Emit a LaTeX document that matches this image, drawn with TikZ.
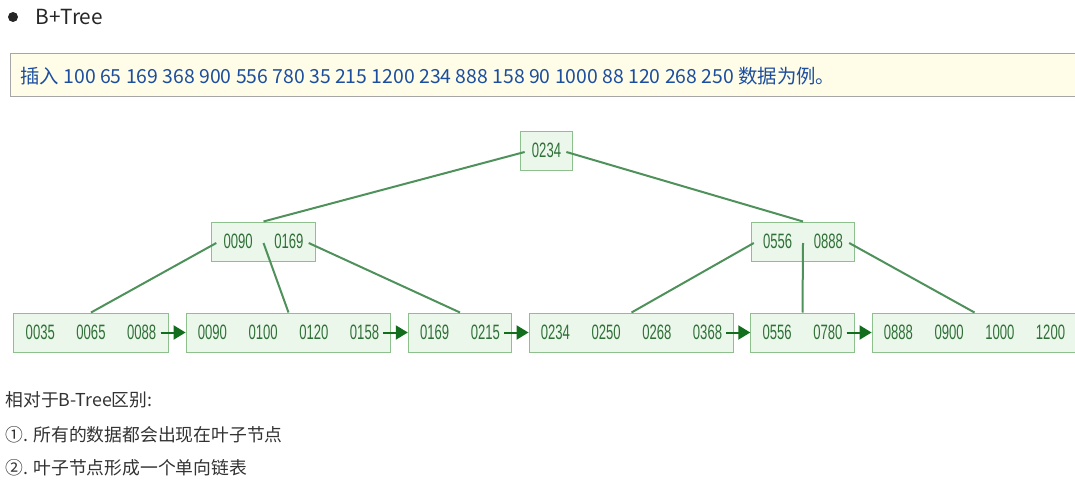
\documentclass[tikz,border=0pt]{standalone}
\usepackage{fontspec}
\setmainfont{Noto Sans CJK SC}
\newfontfamily\keyfont[FakeStretch=0.63]{Liberation Sans}
\usetikzlibrary{arrows.meta}

\definecolor{boxgreen}{RGB}{234,247,234}
\definecolor{edgegreen}{RGB}{141,192,141}
\definecolor{keygreen}{RGB}{48,112,56}
\definecolor{linegreen}{RGB}{78,145,90}
\definecolor{arrowgreen}{RGB}{18,110,28}
\definecolor{notebg}{RGB}{255,253,232}
\definecolor{noteblue}{RGB}{28,78,160}
\definecolor{plaintext}{RGB}{50,50,50}

% one slot per key inside a tree node
\newcommand{\keyrow}[1]{\foreach \kval in {#1}{\makebox[25.35pt]{\kval}}}

\tikzset{
  keybox/.style={draw=edgegreen, fill=boxgreen, line width=0.5pt, minimum height=19.5pt,
    inner xsep=0.5pt, inner ysep=0pt, text=keygreen, font=\keyfont\fontsize{10.4pt}{12pt}\selectfont},
  treeline/.style={linegreen, line width=1pt},
  leaflink/.style={arrowgreen, line width=1pt, -{Triangle[length=6pt,width=7pt]}},
  plain/.style={anchor=west, inner sep=0pt, text=plaintext, font=\fontsize{8.9pt}{10pt}\selectfont}
}

\begin{document}
\begin{tikzpicture}[x=0.5pt, y=-0.5pt]
\clip (0,0) rectangle (1075,481);

% heading
\fill[black!85] (13,17) circle (2.5pt);
\node[anchor=west, inner sep=0pt, text=black!85, font=\fontsize{10.4pt}{12pt}\selectfont] (title) at (35,17) {B+Tree};

% inserted keys
\draw[black!35, fill=notebg, line width=0.5pt] (1090,53.5) -- (10,53.5) -- (10,97) -- (1090,97);
\node[anchor=west, inner sep=0pt, text=noteblue, font=\fontsize{9.7pt}{11pt}\selectfont] (note) at (20,76)
  {插入 100 65 169 368 900 556 780 35 215 1200 234 888 158 90 1000 88 120 268 250 数据为例。};

% tree nodes
\node[keybox] (root) at (546.5,150.5) {\keyrow{0234}};
\node[keybox] (midL) at (263.5,241.5) {\keyrow{0090,0169}};
\node[keybox] (midR) at (803,241.5) {\keyrow{0556,0888}};

\node[keybox] (leafA) at (91,332.5) {\keyrow{0035,0065,0088}};
\node[keybox] (leafB) at (288.5,332.5) {\keyrow{0090,0100,0120,0158}};
\node[keybox] (leafC) at (460,332.5) {\keyrow{0169,0215}};
\node[keybox] (leafD) at (631.5,332.5) {\keyrow{0234,0250,0268,0368}};
\node[keybox] (leafE) at (802.5,332.5) {\keyrow{0556,0780}};
\node[keybox] (leafF) at (974.5,332.5) {\keyrow{0888,0900,1000,1200}};

% parent to child
\draw[treeline] ([xshift=2.5pt,yshift=-0.75pt]root.west) -- (midL.north);
\draw[treeline] ([xshift=-3.5pt,yshift=-0.75pt]root.east) -- (midR.north);
\draw[treeline] ([xshift=2.5pt,yshift=-0.75pt]midL.west) -- (leafA.north);
\draw[treeline] ([yshift=-0.75pt]midL.center) -- (leafB.north);
\draw[treeline] ([xshift=-3.5pt,yshift=-0.75pt]midL.east) -- (leafC.north);
\draw[treeline] ([xshift=1.5pt,yshift=-0.75pt]midR.west) -- (leafD.north);
\draw[treeline] ([yshift=-0.75pt]midR.center) -- (leafE.north);
\draw[treeline] ([xshift=-3pt,yshift=-0.75pt]midR.east) -- (leafF.north);

% leaf chain
\draw[leaflink] ([xshift=-4pt]leafA.east) -- (leafB.west);
\draw[leaflink] ([xshift=-4pt]leafB.east) -- (leafC.west);
\draw[leaflink] ([xshift=-4pt]leafC.east) -- (leafD.west);
\draw[leaflink] ([xshift=-4pt]leafD.east) -- (leafE.west);
\draw[leaflink] ([xshift=-4pt]leafE.east) -- (leafF.west);

% notes below
\node[plain] (diff) at (5,400) {相对于B-Tree区别:};
\node[plain] (ptone) at (5,435) {①. 所有的数据都会出现在叶子节点};
\node[plain] (pttwo) at (5,468) {②. 叶子节点形成一个单向链表};
\end{tikzpicture}
\end{document}
